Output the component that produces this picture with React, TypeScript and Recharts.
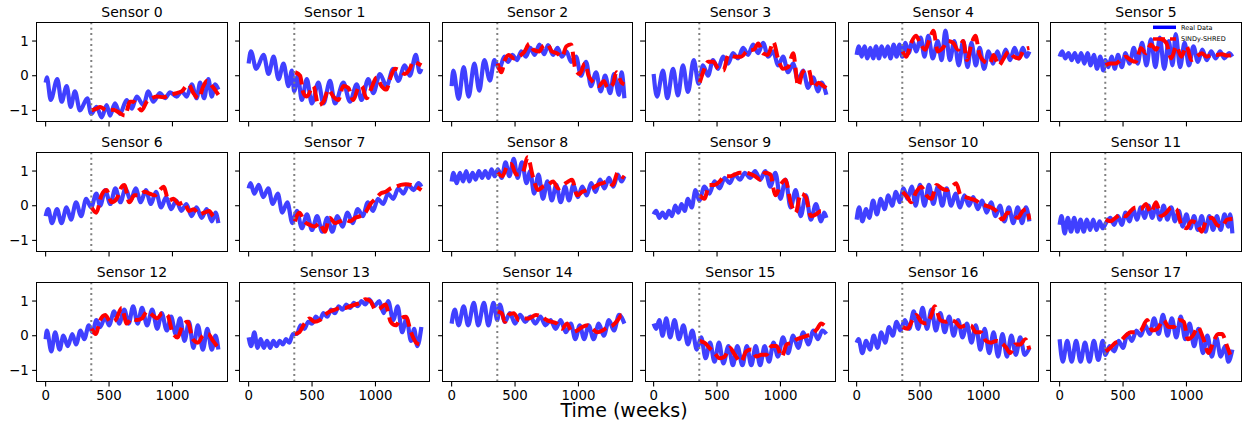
import { Line, LineChart, ReferenceLine, XAxis, YAxis } from 'recharts'

type Pt = [number, number]

// shared axis settings
const weekTicks = [0, 500, 1000]
const valueTicks = [-1, 0, 1]
const trainEnd = 360
const xDomain: [number, number] = [-68, 1430]
const yDomain: [number, number] = [-1.32, 1.52]

// [week, value] pairs, mostly peaks and troughs of each curve
const real0: Pt[] = [[0,-0.2],[10,-0.05],[40,-0.7],[92,-0.1],[126,-0.75],[166,-0.3],[197,-0.9],[231,-0.45],[271,-1.0],[329,-0.65],[358,-1.1],[402,-0.9],[442,-1.2],[481,-0.85],[508,-1.15],[547,-0.8],[586,-1.1],[639,-0.7],[679,-0.95],[718,-0.6],[771,-0.85],[810,-0.45],[849,-0.75],[902,-0.5],[942,-0.65],[981,-0.48],[1034,-0.6],[1073,-0.45],[1112,-0.6],[1152,-0.25],[1191,-0.65],[1218,-0.2],[1249,-0.65],[1283,-0.1],[1310,-0.6],[1336,-0.25],[1362,-0.4]]
const pred0: Pt[] = [[363,-1.0],[402,-0.95],[429,-0.9],[481,-1.0],[534,-0.98],[573,-1.05],[626,-1.15],[665,-0.75],[692,-0.75],[757,-1.0],[797,-0.75],[836,-0.65],[876,-0.6],[928,-0.62],[981,-0.55],[1034,-0.5],[1073,-0.45],[1126,-0.25],[1165,-0.5],[1205,-0.65],[1244,-0.3],[1270,-0.15],[1323,-0.35],[1362,-0.55]]

const real1: Pt[] = [[0,0.35],[18,0.7],[60,0.2],[118,0.6],[157,0.05],[197,0.55],[236,-0.1],[275,0.35],[314,-0.3],[341,0.15],[359,-0.45],[388,0.0],[419,-0.7],[459,-0.1],[498,-0.8],[550,-0.2],[590,-0.8],[642,-0.15],[681,-0.8],[747,-0.2],[799,-0.75],[852,-0.25],[891,-0.7],[943,-0.1],[983,-0.5],[1035,0.05],[1087,-0.3],[1140,0.2],[1179,-0.15],[1231,0.3],[1271,0.0],[1318,0.6],[1349,0.1],[1362,0.2]]
const pred1: Pt[] = [[367,0.1],[406,0.0],[432,-0.5],[459,-0.6],[511,-0.3],[550,-0.85],[590,-0.75],[629,-0.4],[668,-0.6],[707,-0.7],[747,-0.3],[786,-0.35],[825,-0.7],[865,-0.35],[891,-0.3],[930,-0.65],[969,-0.35],[1009,-0.05],[1048,-0.3],[1087,-0.4],[1114,-0.1],[1153,0.2],[1192,0.15],[1231,0.05],[1271,0.2],[1297,0.4],[1336,0.35],[1362,0.3]]

const real2: Pt[] = [[0,-0.3],[13,0.15],[55,-0.67],[95,0.25],[134,-0.6],[179,0.35],[218,-0.43],[258,0.45],[302,-0.14],[337,0.45],[376,0.2],[416,0.55],[445,0.4],[480,0.6],[515,0.45],[550,0.7],[585,0.55],[620,0.8],[655,0.6],[692,0.9],[730,0.62],[760,0.88],[800,0.6],[835,0.8],[870,0.55],[905,0.7],[942,0.4],[981,0.55],[1020,0.0],[1060,0.4],[1099,-0.3],[1139,0.1],[1175,-0.45],[1210,0.0],[1250,-0.5],[1280,0.05],[1320,-0.55],[1340,0.1],[1362,-0.65]]
const pred2: Pt[] = [[363,0.35],[392,0.1],[420,0.45],[450,0.6],[490,0.5],[530,0.55],[575,0.7],[613,0.92],[645,0.75],[690,0.7],[720,0.85],[757,0.9],[790,0.7],[830,0.65],[870,0.55],[905,0.85],[942,0.9],[975,0.2],[1010,0.05],[1050,0.35],[1080,0.0],[1120,-0.2],[1160,-0.3],[1200,-0.15],[1230,-0.35],[1270,-0.25],[1300,0.1],[1340,-0.2],[1362,-0.25]]

const real3: Pt[] = [[0,0.05],[26,-0.6],[74,0.15],[108,-0.65],[153,0.2],[192,-0.57],[231,0.3],[271,-0.47],[316,0.45],[355,-0.23],[389,0.3],[429,0.0],[468,0.45],[508,0.2],[547,0.55],[587,0.35],[626,0.65],[666,0.5],[705,0.8],[745,0.6],[784,0.9],[824,0.65],[863,0.95],[903,0.55],[942,0.7],[982,0.3],[1021,0.55],[1060,0.1],[1100,0.35],[1139,-0.15],[1178,0.15],[1218,-0.35],[1257,-0.05],[1297,-0.45],[1323,-0.2],[1362,-0.55]]
const pred3: Pt[] = [[363,-0.2],[390,0.1],[430,0.4],[470,0.4],[510,0.2],[550,0.15],[590,0.6],[640,0.55],[690,0.55],[740,0.72],[790,0.75],[825,0.93],[860,0.65],[900,0.6],[945,0.97],[980,0.5],[1020,0.2],[1060,0.25],[1100,0.65],[1140,-0.3],[1175,0.1],[1220,0.2],[1260,-0.35],[1300,-0.2],[1340,-0.3],[1362,-0.35]]

const real4: Pt[] = [[0,0.6],[18,0.85],[40,0.55],[62,0.85],[85,0.5],[108,0.8],[130,0.5],[153,0.85],[176,0.5],[198,0.85],[222,0.55],[245,0.85],[268,0.5],[292,0.9],[315,0.55],[338,0.9],[360,0.55],[385,0.95],[410,0.65],[440,1.0],[470,0.7],[505,1.1],[535,0.55],[565,1.15],[600,0.5],[640,1.0],[670,0.45],[700,1.3],[735,0.45],[770,1.0],[805,0.3],[840,1.0],[875,0.25],[905,0.95],[940,0.3],[970,0.8],[1005,0.2],[1040,0.7],[1075,0.35],[1110,0.7],[1140,0.4],[1175,0.75],[1210,0.45],[1245,0.8],[1280,0.5],[1310,0.8],[1340,0.55],[1362,0.7]]
const pred4: Pt[] = [[363,0.7],[390,0.55],[430,0.95],[468,1.15],[500,0.95],[540,0.75],[575,1.05],[605,1.3],[640,0.7],[680,0.8],[720,1.0],[760,0.95],[800,0.75],[840,1.0],[870,0.45],[905,0.9],[936,1.15],[970,0.6],[1010,0.4],[1050,0.35],[1080,0.6],[1120,0.3],[1160,0.5],[1200,0.7],[1240,0.55],[1280,0.5],[1320,0.75],[1362,0.8]]

const real5: Pt[] = [[0,0.55],[20,0.7],[45,0.5],[70,0.65],[95,0.45],[120,0.65],[145,0.4],[170,0.65],[195,0.35],[220,0.65],[245,0.3],[270,0.6],[295,0.2],[320,0.55],[345,0.15],[360,0.45],[385,0.25],[410,0.55],[435,0.2],[460,0.6],[490,0.25],[520,0.65],[550,0.35],[585,0.8],[615,0.35],[650,0.95],[685,0.3],[720,1.05],[755,0.25],[790,1.1],[825,0.2],[860,1.0],[890,0.3],[915,1.2],[950,0.25],[985,0.95],[1020,0.3],[1055,0.85],[1090,0.4],[1125,0.75],[1160,0.45],[1195,0.7],[1230,0.5],[1265,0.7],[1300,0.5],[1335,0.65],[1362,0.55]]
const pred5: Pt[] = [[363,0.3],[400,0.35],[440,0.35],[480,0.45],[520,0.55],[560,0.45],[600,0.4],[640,0.8],[680,0.65],[720,0.9],[760,0.75],[800,1.05],[840,0.95],[880,0.5],[920,0.85],[960,0.55],[1000,0.85],[1040,0.45],[1080,0.55],[1120,0.65],[1160,0.55],[1200,0.6],[1240,0.6],[1280,0.62],[1320,0.58],[1362,0.6]]

const real6: Pt[] = [[0,-0.3],[20,-0.1],[50,-0.5],[90,-0.1],[125,-0.5],[165,-0.05],[200,-0.4],[240,0.1],[280,-0.3],[320,0.2],[358,-0.05],[400,0.35],[430,0.0],[470,0.45],[510,0.05],[550,0.5],[590,0.1],[630,0.5],[670,0.15],[710,0.5],[750,0.1],[790,0.45],[830,0.05],[870,0.4],[910,-0.05],[950,0.25],[990,-0.1],[1030,0.15],[1070,-0.15],[1110,0.05],[1150,-0.3],[1190,-0.05],[1230,-0.35],[1270,-0.1],[1310,-0.45],[1340,-0.2],[1362,-0.5]]
const pred6: Pt[] = [[363,-0.05],[400,-0.2],[440,0.3],[480,0.45],[520,0.1],[560,0.2],[600,0.55],[620,0.6],[660,0.1],[700,0.3],[740,0.3],[780,0.4],[820,0.35],[860,0.3],[900,0.45],[930,0.55],[970,0.15],[1010,0.2],[1050,0.05],[1090,0.1],[1130,-0.15],[1170,-0.1],[1210,-0.25],[1250,-0.2],[1290,-0.15],[1320,-0.3],[1362,-0.4]]

const real7: Pt[] = [[0,0.5],[15,0.65],[45,0.35],[80,0.6],[115,0.25],[155,0.5],[190,0.05],[230,0.35],[265,-0.2],[305,0.1],[345,-0.5],[380,-0.15],[420,-0.65],[460,-0.25],[500,-0.7],[540,-0.3],[580,-0.75],[620,-0.35],[660,-0.75],[700,-0.3],[740,-0.6],[780,-0.2],[820,-0.5],[860,-0.1],[900,-0.3],[940,0.1],[980,-0.15],[1020,0.2],[1060,0.05],[1100,0.35],[1140,0.2],[1180,0.5],[1220,0.35],[1260,0.6],[1300,0.45],[1340,0.65],[1362,0.55]]
const pred7: Pt[] = [[365,-0.45],[400,-0.2],[440,-0.45],[480,-0.55],[520,-0.6],[560,-0.5],[600,-0.75],[640,-0.35],[680,-0.5],[720,-0.45],[760,-0.4],[800,-0.45],[840,-0.35],[880,-0.3],[920,-0.2],[960,0.05],[1000,0.2],[1040,0.35],[1080,0.4],[1120,0.5],[1160,0.55],[1200,0.6],[1240,0.62],[1280,0.6],[1320,0.55],[1362,0.45]]

const real8: Pt[] = [[0,0.7],[15,0.95],[40,0.65],[65,0.95],[90,0.7],[115,1.0],[140,0.7],[165,0.95],[190,0.75],[215,1.0],[240,0.8],[265,1.0],[290,0.8],[315,1.05],[340,0.85],[365,1.05],[395,0.8],[425,1.25],[455,0.85],[490,1.35],[520,0.8],[555,1.25],[590,0.65],[620,1.0],[650,0.35],[685,0.9],[720,0.2],[755,0.7],[790,0.15],[825,0.6],[860,0.1],[895,0.55],[925,0.15],[960,0.6],[995,0.25],[1030,0.55],[1065,0.3],[1100,0.65],[1135,0.4],[1170,0.75],[1205,0.5],[1240,0.8],[1275,0.55],[1310,0.9],[1340,0.7],[1362,0.85]]
const pred8: Pt[] = [[363,0.95],[400,0.85],[440,1.15],[470,1.2],[510,0.9],[560,0.95],[600,1.4],[640,0.85],[680,0.45],[720,0.55],[760,0.6],[800,0.7],[840,0.5],[880,0.6],[920,0.7],[950,0.75],[990,0.3],[1030,0.4],[1070,0.45],[1110,0.5],[1150,0.6],[1190,0.65],[1230,0.7],[1270,0.6],[1310,0.95],[1340,0.85],[1362,0.8]]

const real9: Pt[] = [[0,-0.25],[20,-0.15],[45,-0.35],[70,-0.2],[95,-0.35],[120,-0.15],[145,-0.3],[170,0.0],[195,-0.2],[220,0.05],[245,-0.15],[270,0.2],[300,-0.05],[330,0.45],[360,0.15],[400,0.55],[440,0.35],[480,0.7],[520,0.5],[560,0.8],[600,0.65],[640,0.9],[680,0.75],[720,0.95],[760,0.8],[800,1.0],[840,0.75],[880,1.0],[920,0.55],[960,0.95],[1000,0.2],[1040,0.75],[1080,-0.05],[1120,0.45],[1160,-0.3],[1200,0.3],[1240,-0.4],[1280,0.05],[1320,-0.45],[1345,-0.2],[1362,-0.35]]
const pred9: Pt[] = [[363,0.3],[400,0.2],[440,0.6],[480,0.6],[520,0.7],[560,0.85],[600,0.85],[640,0.9],[680,0.95],[720,0.95],[760,0.92],[800,0.85],[840,0.75],[880,0.95],[920,0.9],[960,0.3],[1000,0.6],[1040,0.75],[1080,0.1],[1120,-0.2],[1160,0.35],[1200,0.25],[1240,-0.3],[1280,-0.25],[1320,-0.15],[1362,-0.15]]

const real10: Pt[] = [[0,-0.4],[20,-0.05],[45,-0.45],[75,-0.1],[100,-0.35],[130,0.15],[160,-0.25],[190,0.2],[220,-0.1],[250,0.3],[280,0.0],[310,0.4],[340,0.1],[370,0.5],[400,0.2],[435,0.55],[465,0.0],[500,0.6],[535,0.0],[570,0.6],[605,0.05],[640,0.55],[675,0.0],[710,0.5],[745,0.0],[780,0.35],[815,-0.05],[850,0.3],[885,0.0],[920,0.25],[955,-0.1],[990,0.15],[1025,-0.2],[1060,0.1],[1095,-0.3],[1130,0.0],[1165,-0.45],[1200,-0.05],[1235,-0.5],[1270,-0.05],[1305,-0.5],[1335,-0.05],[1362,-0.45]]
const pred10: Pt[] = [[363,0.4],[400,0.25],[430,0.1],[470,0.4],[510,0.55],[550,0.3],[590,0.2],[630,0.6],[670,0.5],[710,0.45],[750,0.55],[785,0.65],[820,0.3],[860,0.25],[900,0.2],[940,0.15],[980,0.05],[1020,0.0],[1060,-0.05],[1100,-0.15],[1150,-0.4],[1190,-0.2],[1230,-0.25],[1270,-0.35],[1310,-0.15],[1340,-0.1],[1362,-0.4]]

const real11: Pt[] = [[0,-0.55],[15,-0.3],[40,-0.8],[65,-0.35],[90,-0.75],[115,-0.35],[140,-0.75],[165,-0.4],[190,-0.75],[215,-0.4],[240,-0.7],[265,-0.4],[290,-0.7],[315,-0.45],[340,-0.65],[365,-0.5],[400,-0.35],[430,-0.55],[460,-0.3],[490,-0.55],[520,-0.2],[550,-0.45],[580,-0.1],[610,-0.4],[640,-0.05],[670,-0.35],[700,0.0],[730,-0.35],[760,0.0],[790,-0.4],[820,0.0],[850,-0.4],[880,-0.05],[910,-0.45],[940,-0.15],[970,-0.6],[1000,-0.25],[1030,-0.65],[1060,-0.3],[1090,-0.7],[1120,-0.3],[1150,-0.75],[1180,-0.3],[1210,-0.7],[1240,-0.3],[1270,-0.7],[1300,-0.25],[1330,-0.6],[1345,-0.25],[1362,-0.8]]
const pred11: Pt[] = [[363,-0.4],[400,-0.45],[440,-0.35],[480,-0.25],[520,-0.3],[560,-0.15],[600,-0.05],[640,-0.1],[680,0.05],[720,-0.2],[760,0.1],[800,-0.3],[840,-0.2],[880,-0.05],[920,-0.1],[960,-0.55],[1000,-0.65],[1040,-0.45],[1080,-0.5],[1120,-0.75],[1160,-0.4],[1200,-0.35],[1240,-0.55],[1280,-0.6],[1320,-0.4],[1362,-0.38]]

const real12: Pt[] = [[0,-0.1],[10,0.15],[45,-0.45],[75,0.1],[110,-0.4],[140,0.0],[175,-0.3],[210,0.05],[240,-0.25],[275,0.15],[305,-0.1],[340,0.3],[370,0.1],[400,0.45],[430,0.25],[470,0.55],[500,0.3],[540,0.7],[580,0.35],[620,0.75],[655,0.35],[690,0.85],[725,0.35],[760,0.8],[800,0.3],[840,0.75],[880,0.2],[915,0.65],[955,0.15],[990,0.55],[1025,0.05],[1060,0.5],[1095,-0.15],[1130,0.4],[1165,-0.35],[1200,0.3],[1240,-0.4],[1275,0.2],[1310,-0.4],[1340,0.0],[1362,-0.4]]
const pred12: Pt[] = [[363,0.2],[395,0.05],[430,0.45],[470,0.6],[510,0.4],[550,0.45],[600,0.8],[640,0.35],[680,0.5],[720,0.45],[760,0.5],[800,0.7],[840,0.6],[880,0.5],[920,0.65],[960,0.6],[1000,0.1],[1040,-0.05],[1080,0.3],[1120,0.4],[1160,-0.1],[1200,-0.2],[1240,0.0],[1280,0.05],[1320,-0.15],[1362,-0.35]]

const real13: Pt[] = [[0,-0.05],[20,-0.3],[45,0.1],[70,-0.35],[95,-0.1],[120,-0.35],[145,-0.15],[170,-0.35],[195,-0.15],[220,-0.3],[245,-0.15],[270,-0.25],[295,-0.1],[320,-0.2],[350,0.05],[380,0.05],[410,0.3],[440,0.2],[470,0.4],[500,0.35],[530,0.55],[560,0.45],[590,0.65],[620,0.55],[650,0.75],[680,0.65],[710,0.85],[740,0.75],[770,0.9],[800,0.8],[830,0.95],[860,0.85],[890,1.0],[920,0.9],[950,1.05],[990,0.85],[1030,1.0],[1065,0.65],[1100,1.0],[1140,0.45],[1175,0.85],[1210,0.1],[1245,0.5],[1280,-0.15],[1305,0.2],[1330,-0.3],[1362,0.25]]
const pred13: Pt[] = [[365,0.05],[400,0.1],[440,0.35],[480,0.5],[520,0.4],[560,0.45],[600,0.6],[640,0.7],[680,0.75],[720,0.8],[760,0.8],[800,0.85],[840,0.9],[880,0.95],[920,1.05],[960,1.0],[1000,0.75],[1040,0.8],[1080,0.9],[1120,0.4],[1160,0.3],[1200,0.5],[1240,0.55],[1280,0.1],[1320,-0.2],[1345,-0.25]]

const real14: Pt[] = [[0,0.35],[25,0.75],[55,0.3],[95,0.85],[130,0.3],[175,0.95],[210,0.3],[255,0.95],[290,0.3],[330,0.95],[360,0.45],[380,0.9],[420,0.4],[460,0.65],[500,0.35],[540,0.6],[580,0.4],[620,0.55],[660,0.35],[700,0.55],[740,0.3],[780,0.45],[820,0.2],[860,0.45],[900,0.1],[940,0.35],[975,-0.1],[1010,0.3],[1045,-0.1],[1080,0.3],[1120,-0.1],[1160,0.35],[1200,0.0],[1240,0.45],[1280,0.15],[1320,0.6],[1362,0.35]]
const pred14: Pt[] = [[363,0.7],[395,0.65],[420,0.4],[450,0.6],[490,0.65],[530,0.45],[570,0.5],[610,0.5],[665,0.6],[710,0.55],[750,0.45],[790,0.4],[830,0.35],[870,0.2],[910,0.35],[950,0.1],[990,0.15],[1030,0.25],[1070,0.3],[1110,0.2],[1150,0.1],[1190,0.15],[1230,0.25],[1270,0.3],[1310,0.45],[1340,0.6],[1362,0.5]]

const real15: Pt[] = [[0,0.35],[20,0.2],[45,0.45],[70,0.0],[100,0.5],[130,-0.05],[165,0.45],[200,-0.1],[235,0.3],[270,-0.25],[305,0.15],[340,-0.4],[375,-0.05],[410,-0.65],[445,-0.2],[480,-0.75],[515,-0.2],[550,-0.8],[590,-0.3],[625,-0.85],[660,-0.3],[700,-0.85],[735,-0.3],[770,-0.85],[805,-0.3],[840,-0.85],[875,-0.3],[910,-0.75],[945,-0.2],[980,-0.6],[1020,-0.05],[1060,-0.5],[1100,0.0],[1140,-0.35],[1180,0.1],[1220,-0.25],[1260,0.15],[1295,-0.1],[1330,0.15],[1362,0.05]]
const pred15: Pt[] = [[363,-0.15],[400,-0.2],[440,-0.35],[480,-0.5],[520,-0.65],[560,-0.6],[600,-0.35],[640,-0.55],[690,-0.75],[730,-0.45],[770,-0.4],[810,-0.6],[850,-0.55],[890,-0.55],[930,-0.3],[970,-0.3],[1010,-0.6],[1050,-0.25],[1090,-0.2],[1130,-0.1],[1170,-0.05],[1210,0.0],[1250,0.05],[1290,0.2],[1320,0.35],[1345,0.3]]

const real16: Pt[] = [[0,-0.2],[15,-0.1],[45,-0.5],[75,-0.15],[105,-0.4],[135,0.0],[165,-0.35],[195,0.1],[225,-0.2],[255,0.25],[285,0.0],[315,0.4],[345,0.15],[380,0.45],[415,0.2],[450,0.7],[485,0.2],[520,0.8],[555,0.2],[590,0.75],[625,0.15],[660,0.65],[695,0.1],[730,0.55],[765,0.0],[800,0.45],[835,-0.05],[870,0.35],[905,-0.2],[940,0.3],[975,-0.4],[1010,0.2],[1045,-0.5],[1080,0.1],[1115,-0.6],[1150,0.05],[1185,-0.6],[1220,0.0],[1255,-0.55],[1290,-0.05],[1325,-0.55],[1362,-0.35]]
const pred16: Pt[] = [[363,0.25],[400,0.2],[440,0.45],[470,0.6],[510,0.4],[550,0.35],[590,0.6],[615,0.85],[660,0.45],[700,0.4],[740,0.45],[780,0.4],[820,0.25],[860,0.3],[900,0.3],[940,0.1],[980,0.1],[1020,-0.15],[1060,-0.2],[1100,-0.15],[1140,-0.2],[1180,-0.35],[1210,-0.5],[1250,-0.25],[1290,-0.25],[1330,-0.1],[1362,-0.4]]

const real17: Pt[] = [[0,-0.1],[25,-0.75],[60,-0.15],[95,-0.75],[130,-0.15],[165,-0.75],[200,-0.2],[235,-0.75],[270,-0.15],[305,-0.7],[340,-0.15],[360,-0.55],[395,-0.3],[430,-0.45],[465,-0.15],[500,-0.35],[535,0.05],[570,-0.15],[605,0.15],[640,0.0],[675,0.3],[710,0.05],[745,0.5],[780,0.05],[815,0.6],[850,0.0],[885,0.5],[920,-0.05],[955,0.55],[990,-0.1],[1025,0.35],[1060,-0.3],[1095,0.2],[1130,-0.5],[1165,0.0],[1200,-0.6],[1235,-0.05],[1270,-0.6],[1305,-0.3],[1330,-0.75],[1362,-0.4]]
const pred17: Pt[] = [[363,-0.45],[400,-0.35],[440,-0.2],[480,-0.15],[520,0.0],[560,0.1],[600,0.1],[640,0.15],[690,0.45],[730,0.15],[770,0.2],[820,0.45],[860,0.25],[900,0.25],[940,0.45],[980,0.4],[1010,-0.1],[1050,0.0],[1090,0.25],[1130,-0.05],[1175,-0.5],[1210,-0.2],[1250,0.05],[1280,0.05],[1320,-0.3],[1345,-0.55]]

const realSeries = [real0, real1, real2, real3, real4, real5, real6, real7, real8, real9, real10, real11, real12, real13, real14, real15, real16, real17]
const predSeries = [pred0, pred1, pred2, pred3, pred4, pred5, pred6, pred7, pred8, pred9, pred10, pred11, pred12, pred13, pred14, pred15, pred16, pred17]

// plot-area placement in the 1248x423 figure
const COL_X = [37, 239.8, 442.6, 645.4, 848.2, 1051]
const ROW_Y = [22.5, 152.5, 282.5]
const PW = 190
const PH = 98.5
const AXIS_W = 40
const FONT = '"DejaVu Sans", sans-serif'

const toRows = (pts: Pt[]) => pts.map(([w, v]) => ({ w, v }))
const fmtY = (v: number) => (v < 0 ? `\u2212${Math.abs(v)}` : `${v}`)

function SensorPanel({ index }: { index: number }) {
  const row = Math.floor(index / 6)
  const col = index % 6
  const left = COL_X[col]
  const top = ROW_Y[row]
  const tickStyle = { fontSize: 13.3, fill: '#000', fontFamily: FONT }

  return (
    <>
      <div style={{ position: 'absolute', left: left - AXIS_W, top: top - 5 }}>
        <LineChart
          width={AXIS_W + PW + 5}
          height={5 + PH + 30}
          margin={{ top: 5, right: 5, bottom: 0, left: 0 }}
        >
          <XAxis
            type="number"
            dataKey="w"
            domain={xDomain}
            ticks={weekTicks}
            interval={0}
            allowDataOverflow
            axisLine={false}
            height={30}
            tickSize={4.9}
            tickMargin={4.2}
            tickLine={{ stroke: '#000', strokeWidth: 1.1 }}
            tick={tickStyle}
            tickFormatter={(v: number) => (row === 2 ? `${v}` : '')}
          />
          <YAxis
            type="number"
            domain={yDomain}
            ticks={valueTicks}
            interval={0}
            allowDataOverflow
            axisLine={false}
            width={AXIS_W}
            tickSize={4.9}
            tickMargin={3.5}
            tickLine={{ stroke: '#000', strokeWidth: 1.1 }}
            tick={tickStyle}
            tickFormatter={(v: number) => (col === 0 ? fmtY(v) : '')}
          />
          <Line
            data={toRows(realSeries[index])}
            dataKey="v"
            type="monotone"
            stroke="#0000ff"
            strokeOpacity={0.75}
            strokeWidth={4.2}
            dot={false}
            activeDot={false}
            isAnimationActive={false}
          />
          <Line
            data={toRows(predSeries[index])}
            dataKey="v"
            type="monotone"
            stroke="#ff0000"
            strokeWidth={4}
            strokeDasharray="15 6"
            dot={false}
            activeDot={false}
            isAnimationActive={false}
          />
          <ReferenceLine x={trainEnd} stroke="#808080" strokeWidth={2} strokeDasharray="2 3.4" />
        </LineChart>
      </div>
      <div
        style={{
          position: 'absolute',
          left: left - 0.55,
          top: top - 0.55,
          width: PW + 1.1,
          height: PH + 1.1,
          border: '1.1px solid #000',
          boxSizing: 'border-box',
          pointerEvents: 'none',
        }}
      />
    </>
  )
}

export default function App() {
  return (
    <div
      style={{
        position: 'absolute',
        left: 0,
        top: 0,
        width: 1248,
        height: 423,
        background: '#fff',
        overflow: 'hidden',
        fontFamily: FONT,
      }}
    >
      {realSeries.map((_, i) => (
        <SensorPanel key={i} index={i} />
      ))}
      <svg
        width={1248}
        height={423}
        style={{ position: 'absolute', left: 0, top: 0, pointerEvents: 'none' }}
      >
        {realSeries.map((_, i) => (
          <text
            key={i}
            x={COL_X[i % 6] + PW / 2}
            y={ROW_Y[Math.floor(i / 6)] - 6}
            textAnchor="middle"
            fontSize={14}
            fontFamily={FONT}
            fill="#000"
          >
            {`Sensor ${i}`}
          </text>
        ))}
        <text x={624} y={416.5} textAnchor="middle" fontSize={19} fontFamily={FONT} fill="#000">
          Time (weeks)
        </text>
        {/* legend inside Sensor 5 */}
        <line x1={1153} x2={1176} y1={27.3} y2={27.3} stroke="#0000ff" strokeWidth={3.5} />
        <text x={1181} y={29.6} fontSize={6.5} fontFamily={FONT} fill="#000">
          Real Data
        </text>
        <line x1={1153} x2={1176} y1={39} y2={39} stroke="#ff0000" strokeWidth={3.5} strokeDasharray="12 5" />
        <text x={1181} y={41.3} fontSize={6.5} fontFamily={FONT} fill="#000">
          SINDy-SHRED
        </text>
      </svg>
    </div>
  )
}
